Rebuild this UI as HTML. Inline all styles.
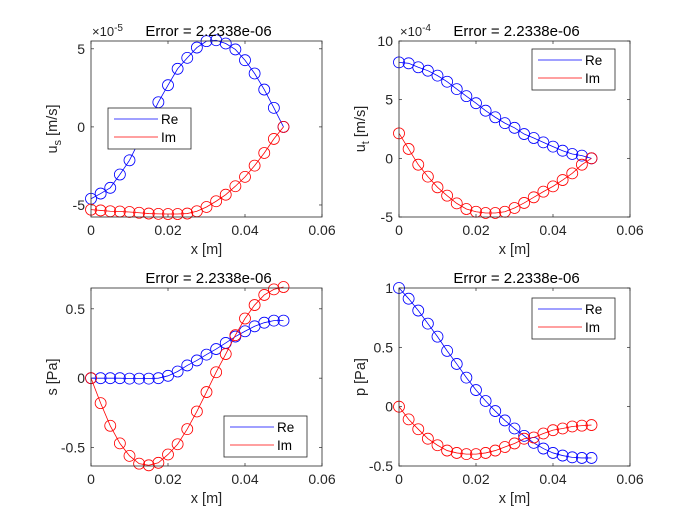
<!DOCTYPE html>
<html><head><meta charset="utf-8"><style>
body{margin:0;background:#fff;}
svg{display:block;font-family:"Liberation Sans",Arial,sans-serif;}
</style></head><body>
<svg id="fig" width="700" height="525" viewBox="0 0 700 525"></svg>
<script>
const xVals=[0,0.0025,0.005,0.0075,0.01,0.0125,0.015,0.0175,0.02,0.0225,0.025,0.0275,0.03,0.0325,0.035,0.0375,0.04,0.0425,0.045,0.0475,0.05];
const usRe=[-4.6,-4.27,-3.9,-3.05,-2.14,-0.9,0.35,1.58,2.67,3.72,4.42,5.08,5.49,5.55,5.34,4.96,4.27,3.42,2.39,1.22,0];
const usIm=[-5.3,-5.35,-5.4,-5.42,-5.45,-5.5,-5.55,-5.57,-5.58,-5.58,-5.55,-5.4,-5.13,-4.76,-4.34,-3.8,-3.2,-2.48,-1.67,-0.77,0];
const utRe=[8.18,8.1,7.76,7.47,7.05,6.53,5.9,5.3,4.7,4.06,3.5,3.0,2.6,2.07,1.73,1.36,1.0,0.65,0.37,0.23,0];
const utIm=[2.13,0.8,-0.54,-1.56,-2.47,-3.18,-3.84,-4.32,-4.55,-4.66,-4.66,-4.55,-4.23,-3.8,-3.32,-2.84,-2.39,-1.85,-1.28,-0.54,0];
const sRe=[0,0,0,0,-0.003,-0.003,-0.003,0,0.017,0.048,0.092,0.128,0.17,0.21,0.254,0.30,0.338,0.374,0.4,0.415,0.415];
const sIm=[0,-0.18,-0.343,-0.47,-0.56,-0.616,-0.628,-0.61,-0.55,-0.476,-0.367,-0.24,-0.1,0.043,0.174,0.31,0.43,0.527,0.6,0.64,0.657];
const pRe=[1.0,0.91,0.81,0.70,0.59,0.47,0.36,0.245,0.14,0.048,-0.037,-0.116,-0.184,-0.246,-0.305,-0.353,-0.39,-0.412,-0.427,-0.432,-0.432];
const pIm=[0,-0.107,-0.19,-0.27,-0.325,-0.37,-0.39,-0.4,-0.4,-0.39,-0.37,-0.34,-0.31,-0.27,-0.26,-0.226,-0.198,-0.184,-0.167,-0.16,-0.155];
const xTicks=[0,0.02,0.04,0.06];
const xTickLabels=["0","0.02","0.04","0.06"];
const usTicks=[-5,0,5], usTickLabels=["-5","0","5"];
const utTicks=[-5,0,5,10], utTickLabels=["-5","0","5","10"];
const sTicks=[-0.5,0,0.5], sTickLabels=["-0.5","0","0.5"];
const pTicks=[-0.5,0,0.5,1], pTickLabels=["-0.5","0","0.5","1"];

const NS="http://www.w3.org/2000/svg";
const svg=document.getElementById('fig');
function mk(tag,attrs,parent){const e=document.createElementNS(NS,tag);for(const k in attrs)e.setAttribute(k,attrs[k]);(parent||svg).appendChild(e);return e;}

const panels=[
 {name:'us',L:91,R:322,T:41,B:217,ymin:-5.77,ymax:5.5,re:usRe,im:usIm,yt:usTicks,ytl:usTickLabels,exp:'-5',ylab:['u','s',' [m/s]'],leg:[108,108]},
 {name:'ut',L:399,R:630,T:41,B:217,ymin:-5,ymax:10,re:utRe,im:utIm,yt:utTicks,ytl:utTickLabels,exp:'-4',ylab:['u','t',' [m/s]'],leg:[532,49]},
 {name:'s',L:91,R:322,T:288,B:466,ymin:-0.633,ymax:0.65,re:sRe,im:sIm,yt:sTicks,ytl:sTickLabels,exp:null,ylab:['s [Pa]'],leg:[224,416]},
 {name:'p',L:399,R:630,T:288,B:466,ymin:-0.5,ymax:1,re:pRe,im:pIm,yt:pTicks,ytl:pTickLabels,exp:null,ylab:['p [Pa]'],leg:[532,298]}
];

panels.forEach(P=>{
 const g=mk('g',{});
 
 
 const xs=v=>P.L+(v-0)/(0.06)*(P.R-P.L);
 const ys=v=>P.B-(v-P.ymin)/(P.ymax-P.ymin)*(P.B-P.T);
 mk('rect',{x:P.L,y:P.T,width:P.R-P.L,height:P.B-P.T,fill:'#fff',stroke:'none'},g);
 xTicks.forEach((t,i)=>{
  const x=xs(t);
  mk('line',{x1:x,y1:P.B,x2:x,y2:P.B-3,stroke:'#262626','stroke-width':0.7},g);
  mk('line',{x1:x,y1:P.T,x2:x,y2:P.T+3,stroke:'#262626','stroke-width':0.7},g);
  const tx=mk('text',{x:x,y:P.B+18,'text-anchor':'middle','font-size':14,fill:'#262626'},g);
  tx.textContent=xTickLabels[i];
  
  
 });
 P.yt.forEach((t,i)=>{
  const y=ys(t);
  mk('line',{x1:P.L,y1:y,x2:P.L+3,y2:y,stroke:'#262626','stroke-width':0.7},g);
  mk('line',{x1:P.R,y1:y,x2:P.R-3,y2:y,stroke:'#262626','stroke-width':0.7},g);
  const tx=mk('text',{x:P.L-6,y:y+5,'text-anchor':'end','font-size':14,fill:'#262626'},g);
  tx.textContent=P.ytl[i];
  
  
 });
 [[P.re,'#0000ff','re'],[P.im,'#ff0000','im']].forEach(([arr,c,n])=>{
  const pts=arr.map((v,i)=>xs(xVals[i])+','+ys(v)).join(' ');
  const pl=mk('polyline',{points:pts,fill:'none',stroke:c,'stroke-width':0.8},g);
  
  
  arr.forEach((v,i)=>{
   const c2=mk('circle',{cx:xs(xVals[i]),cy:ys(v),r:5.5,fill:'none',stroke:c,'stroke-width':0.8},g);
   
   
  });
 });
 mk('rect',{x:P.L,y:P.T,width:P.R-P.L,height:P.B-P.T,fill:'none',stroke:'#262626','stroke-width':0.8},g);
 const cx=(P.L+P.R)/2;
 const ti=mk('text',{x:cx+2,y:P.T-5,'text-anchor':'middle','font-size':15,fill:'#000'},g);
 ti.textContent='Error = 2.2338e-06';
 
 
 if(P.exp){
  const ex=mk('text',{x:P.L+1,y:P.T-5,'font-size':13,fill:'#262626'},g);
  ex.innerHTML='×10<tspan dy="-5" font-size="10">'+P.exp+'</tspan>';
  
  
 }
 const xl=mk('text',{x:cx,y:P.B+37,'text-anchor':'middle','font-size':14.5,fill:'#262626'},g);
 xl.textContent='x [m]';
 
 
 const yl=mk('text',{transform:`translate(${P.L-34},${(P.T+P.B)/2}) rotate(-90)`,'text-anchor':'middle','font-size':14.5,fill:'#262626'},g);
 if(P.ylab.length===3){yl.innerHTML=P.ylab[0]+'<tspan dy="4" font-size="11">'+P.ylab[1]+'</tspan><tspan dy="-4">'+P.ylab[2]+'</tspan>';}
 else yl.textContent=P.ylab[0];
 
 
 const [lx,ly]=P.leg;
 const lg=mk('g',{},g);
 
 
 mk('rect',{x:lx,y:ly,width:83,height:41,fill:'#fff',stroke:'#262626','stroke-width':0.8},lg);
 [['Re','#0000ff'],['Im','#ff0000']].forEach((e,i)=>{
  const yy=ly+11+i*18;
  const ln=mk('line',{x1:lx+6,y1:yy,x2:lx+50,y2:yy,stroke:e[1],'stroke-width':0.8},lg);
  
  
  const t=mk('text',{x:lx+53,y:yy+5,'font-size':13.5,fill:'#000'},lg);
  t.textContent=e[0];
  
  
 });
});
</script>
</body></html>
